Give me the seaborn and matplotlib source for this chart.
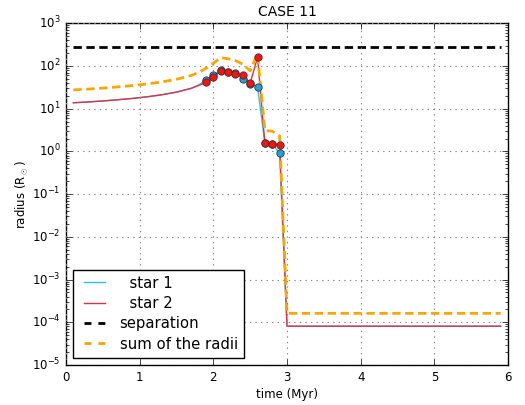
import matplotlib
matplotlib.use("Agg")
import matplotlib.pyplot as plt
import seaborn as sns
import pandas as pd
import numpy as np

# Radius evolution of the two stars (R_sun) against time (Myr)
time = [0.1, 0.3, 0.5, 0.7, 0.9, 1.1, 1.3, 1.5, 1.7, 1.8,
        1.9, 2.0, 2.1, 2.2, 2.3, 2.4, 2.5, 2.6, 2.7, 2.8, 2.9, 3.0, 5.9]
radius_star1 = [13.8, 14.4, 15.2, 16.2, 17.4, 19.0, 21.2, 24.5, 30.0, 36.0,
                47.0, 61.5, 80.5, 74.3, 68.5, 48.9, 37.8, 32.7, 1.54, 1.49, 0.90,
                8.1e-5, 8.1e-5]
radius_star2 = [13.8, 14.4, 15.2, 16.2, 17.4, 19.0, 21.2, 24.5, 30.0, 35.0,
                41.5, 54.3, 76.4, 73.6, 65.0, 61.6, 39.4, 160.0, 1.54, 1.49, 1.41,
                8.1e-5, 8.1e-5]
separation = [279.0] * len(time)
# snapshots marked with dots
snapshot_times = [1.9, 2.0, 2.1, 2.2, 2.3, 2.4, 2.5, 2.6, 2.7, 2.8, 2.9]

df = pd.DataFrame({"time": time, "star1": radius_star1, "star2": radius_star2,
                   "separation": separation})
df["sum"] = df["star1"] + df["star2"]
snaps = df[df["time"].round(2).isin(snapshot_times)]

plt.style.use("classic")
plt.rcParams["font.family"] = ["DejaVu Sans"]

fig = plt.figure(figsize=(5.25, 4.05), dpi=100, facecolor="white")
ax = fig.add_axes([66 / 525, 1 - 365 / 405, 442 / 525, (365 - 23.3) / 405])
ax.set_facecolor("white")

c1, c2 = "#29c3f4", "#e33140"
dash = (0, (6.0, 3.3))
sns.lineplot(data=df, x="time", y="star1", ax=ax, color=c1, lw=1.0,
             label="  star 1", sort=False, estimator=None)
sns.lineplot(data=df, x="time", y="star2", ax=ax, color=c2, lw=1.0,
             label="  star 2", sort=False, estimator=None)
sns.lineplot(data=df, x="time", y="separation", ax=ax, color="black", lw=2.0,
             ls=dash, label="separation", sort=False, estimator=None)
sns.lineplot(data=df, x="time", y="sum", ax=ax, color="orange", lw=2.0,
             ls=dash, label="sum of the radii", sort=False, estimator=None)
sns.scatterplot(data=snaps, x="time", y="star1", ax=ax, color="#1fa3d9",
                edgecolor="#333333", linewidth=0.6, s=28, zorder=5, legend=False)
sns.scatterplot(data=snaps, x="time", y="star2", ax=ax, color="#ff1010",
                edgecolor="#333333", linewidth=0.6, s=28, zorder=6, legend=False)

ax.set_yscale("log")
ax.set_xlim(0, 6)
ax.set_ylim(1e-5, 1e3)
ax.set_xticks([0, 1, 2, 3, 4, 5, 6])
ax.grid(True, color="#888888", linestyle=":", linewidth=0.8)
ax.tick_params(labelsize=8.5)
ax.set_xlabel("time (Myr)", fontsize=8.5, labelpad=3)
ax.set_ylabel(r"radius (R$_\odot$)", fontsize=8.5, labelpad=1)
ax.set_title("CASE 11", fontsize=10)

leg = ax.legend(loc="lower left", fontsize=10.7, frameon=True, fancybox=False,
                handlelength=2.0, handletextpad=0.7, labelspacing=0.36,
                borderaxespad=0.5)
leg.get_frame().set_edgecolor("black")
for handle in leg.get_lines()[2:]:
    handle.set_linestyle((0, (5.0, 5.0)))

fig.savefig("out.png", dpi=100, facecolor="white")
